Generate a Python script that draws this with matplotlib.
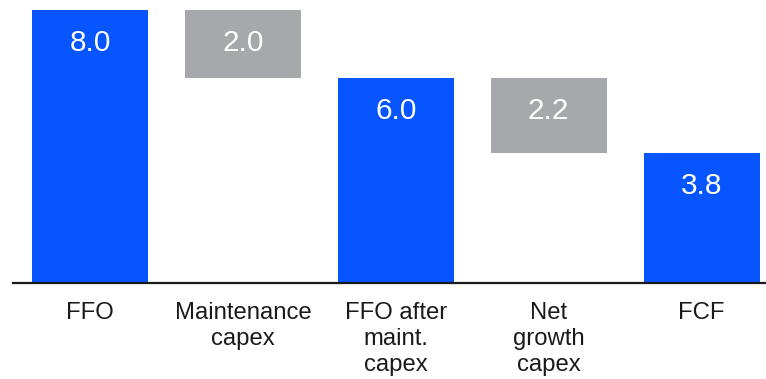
import matplotlib
matplotlib.use('Agg')
import matplotlib.pyplot as plt

plt.rcParams['font.family'] = ['Liberation Sans', 'DejaVu Sans']

categories = ['FFO', 'Maintenance\ncapex', 'FFO after\nmaint.\ncapex', 'Net\ngrowth\ncapex', 'FCF']
values = [8.0, 2.0, 6.0, 2.2, 3.8]
bottoms = [0.0, 6.0, 0.0, 3.8, 0.0]
is_total = [True, False, True, False, True]

blue = '#0655FE'
gray = '#A7A8AB'

W, H = 766, 379
fig = plt.figure(figsize=(W / 100, H / 100), dpi=100)

# axes bottom edge sits on the baseline line
base_px = 96.5
ax = fig.add_axes([13 / W, base_px / H, 1 - 13 / W, 1 - base_px / H])

px_per_unit = 34.06
step = 152.9
ax.set_xlim(-(90 - 13) / step, 4 + (766 - 701.5) / step)
ax.set_ylim(0, (H - base_px) / px_per_unit)

x = range(len(categories))
colors = [blue if t else gray for t in is_total]
ax.bar(x, values, bottom=bottoms, width=116 / step, color=colors)

for i, (v, b) in enumerate(zip(values, bottoms)):
    top = v + b
    ax.text(i, top - 40.5 / px_per_unit, f'{v:.1f}', ha='center', va='baseline',
            color='white', fontsize=21.4)

for s in ['top', 'left', 'right']:
    ax.spines[s].set_visible(False)
ax.spines['bottom'].set_linewidth(1.6)
ax.spines['bottom'].set_color('#1a1a1a')
ax.set_yticks([])
ax.set_xticks(list(x))
ax.set_xticklabels(categories, fontsize=17.2, color='#1a1a1a', linespacing=1.24)
ax.tick_params(axis='x', length=0, pad=13.8)

fig.savefig('out.png', dpi=100)
